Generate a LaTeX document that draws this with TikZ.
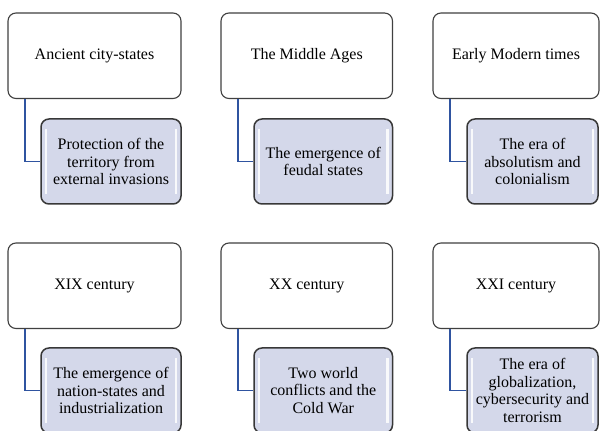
\documentclass[tikz,border=0pt]{standalone}
\usepackage{fontspec}
\setmainfont{Liberation Serif}
\definecolor{boxline}{HTML}{404040}
\definecolor{childfill}{HTML}{D4D8EA}
\definecolor{childline}{HTML}{383838}
\definecolor{linkblue}{HTML}{2F54A0}
\tikzset{
	era/.style={draw=boxline, line width=1.1pt, rounded corners=8pt, fill=white, align=center, inner sep=0pt},
	trait/.style={draw=childline, line width=1.5pt, rounded corners=8pt, fill=childfill, align=center, inner sep=0pt,
		path picture={
			\draw[white, line width=2.2pt, opacity=0.85] ([xshift=5pt,yshift=-10pt]path picture bounding box.north west) -- ([xshift=5pt,yshift=10pt]path picture bounding box.south west);
			\draw[white, line width=2.2pt, opacity=0.85] ([xshift=-5pt,yshift=-10pt]path picture bounding box.north east) -- ([xshift=-5pt,yshift=10pt]path picture bounding box.south east);
		}},
	link/.style={draw=linkblue, line width=1.1pt}
}
\begin{document}
\begin{tikzpicture}[x=1pt, y=1pt, font=\fontsize{16}{17.5}\selectfont]
			%%%%% START %%%%%
			\useasboundingbox (0, 0) rectangle (600, 431);
			\clip (0, 0) rectangle (600, 431);
			
			% upper row
			\node[era, minimum width=173pt, minimum height=85.5pt] (ancient) at (94.5, 375.25) {Ancient city-states};
			\node[era, minimum width=171.5pt, minimum height=85.5pt] (middle) at (306.75, 375.25) {The Middle Ages};
			\node[era, minimum width=166pt, minimum height=85.5pt] (modern) at (516, 375.25) {Early Modern times};
			
			\node[trait, minimum width=140pt, minimum height=85pt] (protect) at (111, 269.5) {Protection of the\\territory from\\external invasions};
			\node[trait, minimum width=138.5pt, minimum height=85pt] (feudal) at (323.25, 269.5) {The emergence of\\feudal states};
			\node[trait, minimum width=131pt, minimum height=85pt] (absolut) at (532.5, 269.5) {The era of\\absolutism and\\colonialism};
			
			% lower row
			\node[era, minimum width=173pt, minimum height=85.5pt] (xix) at (94.5, 145.25) {XIX century};
			\node[era, minimum width=171.5pt, minimum height=85.5pt] (xx) at (306.75, 145.25) {XX century};
			\node[era, minimum width=166pt, minimum height=85.5pt] (xxi) at (516, 145.25) {XXI century};
			
			\node[trait, minimum width=140pt, minimum height=85pt] (nation) at (111, 40.5) {The emergence of\\nation-states and\\industrialization};
			\node[trait, minimum width=138.5pt, minimum height=85pt] (wars) at (323.25, 40.5) {Two world\\conflicts and the\\Cold War};
			\node[trait, minimum width=131pt, minimum height=85pt] (global) at (532.5, 40.5) {The era of\\globalization,\\cybersecurity and\\terrorism};
			
			% connectors
			\draw[link] ([xshift=17.5pt]ancient.south west) |- (protect.west);
			\draw[link] ([xshift=17.5pt]middle.south west) |- (feudal.west);
			\draw[link] ([xshift=17.5pt]modern.south west) |- (absolut.west);
			\draw[link] ([xshift=17.5pt]xix.south west) |- (nation.west);
			\draw[link] ([xshift=17.5pt]xx.south west) |- (wars.west);
			\draw[link] ([xshift=17.5pt]xxi.south west) |- (global.west);
			
			%%%%% END %%%%%
\end{tikzpicture}
\end{document}
